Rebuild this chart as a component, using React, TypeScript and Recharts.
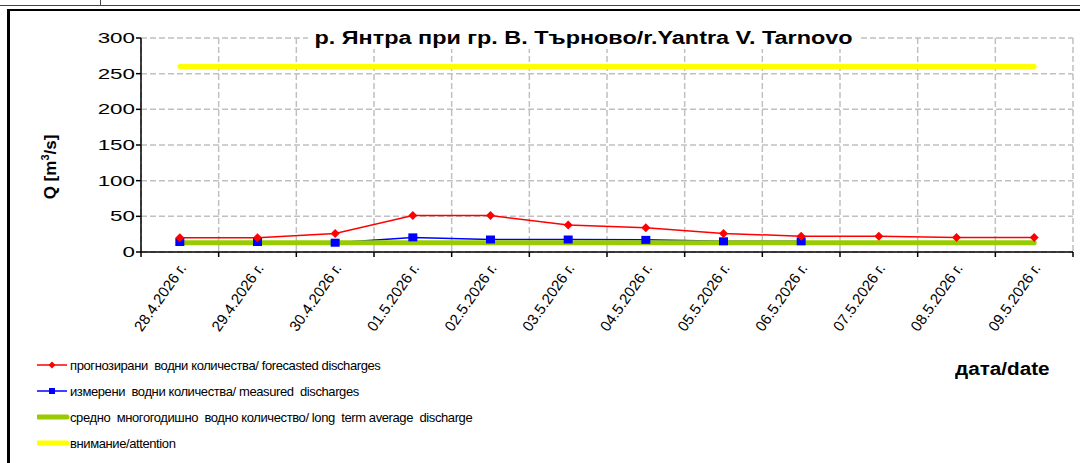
import React from 'react'
import { LineChart, Line, XAxis, YAxis, CartesianGrid } from 'recharts'

const dates = [
  '28.4.2026 г.', '29.4.2026 г.', '30.4.2026 г.', '01.5.2026 г.', '02.5.2026 г.', '03.5.2026 г.',
  '04.5.2026 г.', '05.5.2026 г.', '06.5.2026 г.', '07.5.2026 г.', '08.5.2026 г.', '09.5.2026 г.',
]
const forecasted = [20, 20, 26, 51, 51, 38, 34, 26, 22, 22, 20.5, 20.5]
const measured = [14, 14, 13, 20.5, 17.5, 17.5, 17, 15, 15, null, null, null]
const longTermAverage = [13, 13, 13, 13, 13, 13, 13, 13, 13, 13, 13, 13]
const attention = [260, 260, 260, 260, 260, 260, 260, 260, 260, 260, 260, 260]
const yTicks = [0, 50, 100, 150, 200, 250, 300]

const legendItems = [
  { label: 'прогнозирани  водни количества/ forecasted discharges', color: '#ff0000', kind: 'diamond' },
  { label: 'измерени  водни количества/ measured  discharges', color: '#0000ff', kind: 'square' },
  { label: 'средно  многогодишно  водно количество/ long  term average  discharge', color: '#99cc00', kind: 'thick' },
  { label: 'внимание/attention', color: '#ffff00', kind: 'thick' },
]

const FONT = '"Liberation Sans", Arial, sans-serif'

const data = dates.map((d, i) => ({
  x: i + 0.5,
  date: d,
  forecasted: forecasted[i],
  measured: measured[i],
  avg: longTermAverage[i],
  attention: attention[i],
}))

function Diamond(props: any) {
  const { cx, cy } = props
  if (cx == null || cy == null) return null
  return <polygon points={`${cx},${cy - 4.5} ${cx + 4.5},${cy} ${cx},${cy + 4.5} ${cx - 4.5},${cy}`} fill="#ff0000" />
}

function Square(props: any) {
  const { cx, cy, value } = props
  if (cx == null || cy == null || value == null) return null
  return <rect x={cx - 4.5} y={cy - 4} width={9} height={8} fill="#0000ff" />
}

function DateTick(props: any) {
  const { x, y, payload } = props
  const idx = Math.floor(payload.value)
  const tx = x + 7
  const ty = y + 6
  return (
    <text x={tx} y={ty} textAnchor="end" fontSize={15} fontFamily={FONT} fill="#000"
      transform={`rotate(-55, ${tx}, ${ty})`}>
      {dates[idx]}
    </text>
  )
}

function ValueTick(props: any) {
  const { x, y, payload } = props
  return (
    <text x={x} y={y} dy={5} textAnchor="end" fontSize={14} fontFamily={FONT} fill="#000"
      transform={`translate(${x},${y}) scale(1.6,1) translate(${-x},${-y})`}>
      {payload.value}
    </text>
  )
}

function LegendBox() {
  return (
    <div style={{ position: 'absolute', left: 37, top: 352, fontFamily: FONT, fontSize: 13, letterSpacing: -0.4 }}>
      {legendItems.map((it) => (
        <div key={it.label} style={{ display: 'flex', alignItems: 'center', height: 26 }}>
          <svg width={33} height={12}>
            {it.kind === 'thick' ? (
              <line x1={1} y1={6} x2={30} y2={6} stroke={it.color} strokeWidth={5} strokeLinecap="round" />
            ) : (
              <line x1={0} y1={6} x2={30} y2={6} stroke={it.color} strokeWidth={1.5} />
            )}
            {it.kind === 'diamond' && <polygon points="15,2.5 18.5,6 15,9.5 11.5,6" fill={it.color} />}
            {it.kind === 'square' && <rect x={12} y={3} width={6} height={6} fill={it.color} />}
          </svg>
          <span style={{ whiteSpace: 'pre' }}>{it.label}</span>
        </div>
      ))}
    </div>
  )
}

export default function App() {
  return (
    <div style={{ position: 'absolute', left: 0, top: 0, width: 1080, height: 463, background: '#fff', overflow: 'hidden' }}>
      <LineChart width={1080} height={463} data={data} margin={{ top: 38, right: 7, left: 81, bottom: 0 }}>
        <CartesianGrid xAxisId="a" stroke="#c0c0c0" strokeDasharray="6 3" strokeWidth={1.5} />
        <XAxis xAxisId="a" dataKey="x" type="number" domain={[0, 12]} ticks={[0, 1, 2, 3, 4, 5, 6, 7, 8, 9, 10, 11, 12]}
          tickFormatter={() => ''} height={10} tickSize={5} axisLine={{ stroke: '#000', strokeWidth: 1.5 }}
          tickLine={{ stroke: '#000', strokeWidth: 1.5 }} />
        <XAxis xAxisId="b" dataKey="x" type="number" domain={[0, 12]}
          ticks={[0.5, 1.5, 2.5, 3.5, 4.5, 5.5, 6.5, 7.5, 8.5, 9.5, 10.5, 11.5]}
          height={201} tickSize={0} tickMargin={0} axisLine={false} tickLine={false} tick={<DateTick />} interval={0} />
        <YAxis domain={[0, 300]} ticks={yTicks} width={60} tickSize={5} interval={0}
          axisLine={{ stroke: '#000', strokeWidth: 1.5 }} tickLine={{ stroke: '#000', strokeWidth: 1.5 }}
          tick={<ValueTick />} tickMargin={1} />
        <Line xAxisId="a" dataKey="measured" stroke="#0000ff" strokeWidth={1.5} dot={<Square />} activeDot={false}
          isAnimationActive={false} connectNulls={false} />
        <Line xAxisId="a" dataKey="avg" stroke="#99cc00" strokeWidth={5} dot={false} activeDot={false}
          strokeLinecap="round" isAnimationActive={false} />
        <Line xAxisId="a" dataKey="forecasted" stroke="#ff0000" strokeWidth={1.5} dot={<Diamond />} activeDot={false}
          isAnimationActive={false} />
        <Line xAxisId="a" dataKey="attention" stroke="#ffff00" strokeWidth={5} dot={false} activeDot={false}
          strokeLinecap="round" isAnimationActive={false} />
      </LineChart>

      <div style={{ position: 'absolute', left: 0, top: 5, width: 1080, height: 1, background: '#444' }} />
      <div style={{ position: 'absolute', left: 7, top: 9, width: 1073, height: 2, background: '#000' }} />
      <div style={{ position: 'absolute', left: 100, top: 0, width: 1, height: 6, background: '#444' }} />
      <div style={{ position: 'absolute', left: 7, top: 9, width: 3, height: 454, background: '#000' }} />

      <div style={{ position: 'absolute', left: 308, top: 27, padding: '0 5px', background: '#fff', fontFamily: FONT,
        fontWeight: 'bold', fontSize: 18, lineHeight: '22px', whiteSpace: 'nowrap',
        transform: 'scaleX(1.3)', transformOrigin: 'left center' }}>
        р. Янтра при гр. В. Търново/r.Yantra V. Tarnovo
      </div>
      <div style={{ position: 'absolute', left: 50, top: 167, transform: 'translate(-50%, -50%) rotate(-90deg)',
        fontFamily: FONT, fontWeight: 'bold', fontSize: 17, whiteSpace: 'nowrap' }}>
        Q [m<sup style={{ fontSize: 11 }}>3</sup>/s]
      </div>
      <div style={{ position: 'absolute', left: 955, top: 359, fontFamily: FONT, fontWeight: 'bold', fontSize: 18,
        transform: 'scaleX(1.15)', transformOrigin: 'left center' }}>
        дата/date
      </div>
      <LegendBox />
    </div>
  )
}
